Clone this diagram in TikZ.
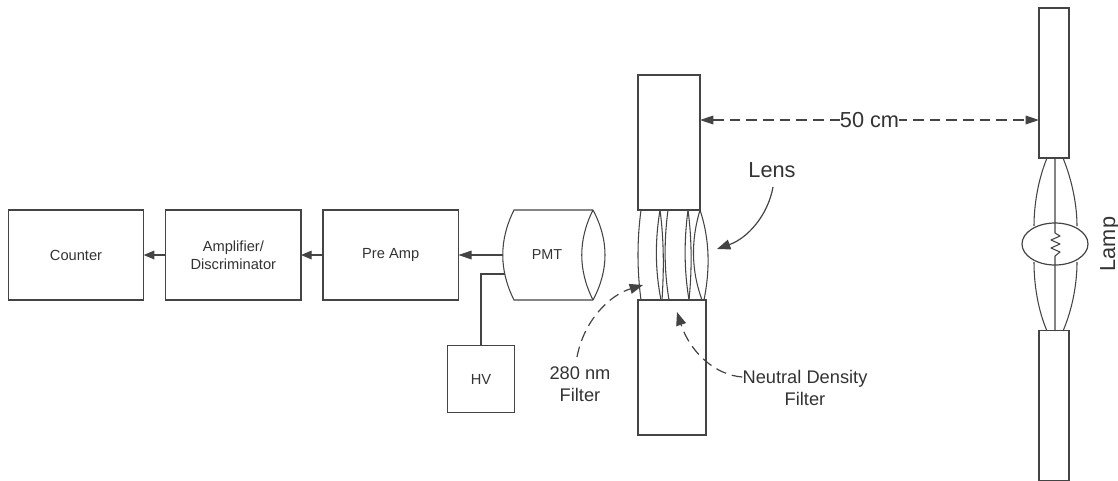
\documentclass[tikz,border=0pt]{standalone}
\usepackage{fontspec}
\setmainfont{Liberation Sans}
\usetikzlibrary{positioning, arrows.meta, shapes.geometric}
\definecolor{dline}{HTML}{444444}
\definecolor{dtext}{HTML}{333333}

\begin{document}
\begin{tikzpicture}[
    x=0.75pt, y=-0.75pt,
    block/.style={rectangle, draw=dline, line width=0.9pt, inner sep=0pt, outer sep=0pt, minimum height=67.5pt, minimum width=101.5pt, align=center, text=dtext, font=\fontsize{11}{13.5}\selectfont},
    slit/.style={rectangle, draw=dline, line width=0.9pt, inner sep=0pt, outer sep=0pt},
    wire/.style={draw=dline, line width=0.8pt},
    arr/.style={-{Triangle[length=8pt, width=6.5pt]}, line width=0.9pt, dline},
    bigarr/.style={-{Triangle[length=10pt, width=7.5pt]}, line width=0.9pt, dline},
    dasharr/.style={bigarr, dash pattern=on 8pt off 4.5pt},
    note/.style={font=\fontsize{13.7}{16.5}\selectfont, text=dtext, align=center, inner sep=0pt},
    big/.style={font=\fontsize{16.3}{19}\selectfont, text=dtext, inner sep=0pt},
]
\useasboundingbox (0,0) rectangle (1118,480);

% Blocks
\node[block] (counter) at (76,255) {Counter};
\node[block, right=16.5pt of counter] (amp) {Amplifier/\\Discriminator};
\node[block, right=16.5pt of amp] (preamp) {Pre Amp};
\node[block, minimum width=50.5pt, minimum height=50.5pt] (hv) at (481,379) {HV};

% PMT
\node[font=\fontsize{10.8}{13}\selectfont, text=dtext, inner sep=0pt] (pmt) at (547,255) {PMT};
\draw[wire] (593,210) -- (514,210) .. controls (499,240) and (499,270) .. (514,300) -- (593,300);
\draw[wire] (593,210) .. controls (578,240) and (578,270) .. (593,300);
\draw[wire] (593,210) .. controls (609,240) and (609,270) .. (593,300);
\coordinate (pmtout) at (503,255);
\coordinate (pmtin) at (505,274);
\coordinate (hvout) at (481,345);

% Slit
\node[slit, minimum width=46.5pt, minimum height=101.25pt] (slittop) at (669,142.5) {};
\node[slit, minimum width=51pt, minimum height=101.25pt] (slitbot) at (672,367.5) {};

% Filters and lens
\foreach \xa/\xb/\xc in {641/641/637, 660/662/664, 660/661/655, 668/669/664, 688/689/692, 688/689/684, 700/702/691, 700/704/710}
    \draw[wire] (\xa,210) .. controls (\xc,240) and (\xc,270) .. (\xb,300);

% Lamp
\node[slit, minimum width=22.5pt, minimum height=112.5pt] (lamptop) at (1054,83) {};
\node[slit, minimum width=22.5pt, minimum height=112pt] (lampbot) at (1054,405.5) {};
\node[ellipse, draw=dline, line width=0.9pt, inner sep=0pt, minimum width=49.5pt, minimum height=31.5pt] (bulb) at (1055,244) {};
\draw[wire] (1047,158) .. controls (1038,180) and (1034,205) .. (1034,226);
\draw[wire] (1063,158) .. controls (1072,180) and (1077,205) .. (1077,226);
\draw[wire] (1034,262) .. controls (1034,285) and (1038,310) .. (1047,331);
\draw[wire] (1077,262) .. controls (1077,285) and (1072,310) .. (1063,331);
\draw[wire, line join=round] (1055,158) -- (1055,233) -- (1060,236) -- (1051,240) -- (1060,244) -- (1051,248) -- (1060,252) -- (1055,256) -- (1055,331);
\node[big, rotate=90] (lamp) at (1110,244) {Lamp};

% Arrows
\draw[arr, -{Triangle[length=10pt, width=6.5pt]}] (pmtout) -- (preamp);
\draw[arr] (preamp) -- (amp);
\draw[arr] (amp) -- (counter);
\draw[wire] (hvout) |- (pmtin);

% Distance
\coordinate (slitedge) at (700,120);
\coordinate (lampedge) at (1039,120);
\draw[dasharr, {Triangle[length=10pt, width=6.5pt]}-{Triangle[length=10pt, width=6.5pt]}] (slitedge) -- node[big, fill=white, inner xsep=0pt] (dist) {50 cm} (lampedge);

% Notes
\node[big] (lens) at (772,170) {Lens};
\coordinate (lenstip) at (717,249);
\draw[bigarr] (773,187) .. controls (768,215) and (748,238) .. (lenstip);
\node[note] (uvfilter) at (580,384) {280 nm\\Filter};
\coordinate (uvtip) at (643,285);
\draw[dasharr] (577,357) .. controls (584,320) and (610,295) .. (uvtip);
\node[note] (ndfilter) at (805,388) {Neutral Density\\Filter};
\coordinate (ndtip) at (677,312);
\draw[dasharr] (ndfilter.west |- 0,377) .. controls (715,375) and (690,352) .. (ndtip);

\end{tikzpicture}
\end{document}
